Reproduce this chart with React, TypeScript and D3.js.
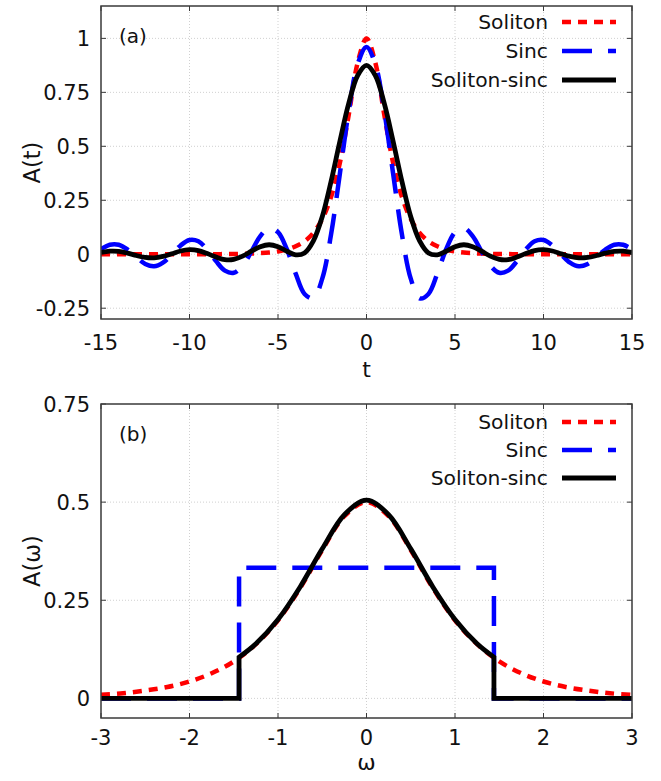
import * as d3 from 'd3';

// panel (a): time domain, sampled every 0.5
const T = [
  -15, -14.5, -14, -13.5, -13, -12.5, -12, -11.5, -11, -10.5, -10, -9.5, -9, -8.5, -8, -7.5,
  -7, -6.5, -6, -5.5, -5, -4.5, -4, -3.5, -3, -2.5, -2, -1.5, -1, -0.5, 0,
  0.5, 1, 1.5, 2, 2.5, 3, 3.5, 4, 4.5, 5, 5.5, 6, 6.5, 7, 7.5, 8,
  8.5, 9, 9.5, 10, 10.5, 11, 11.5, 12, 12.5, 13, 13.5, 14, 14.5, 15,
];
const solitonT = [
  0, 0, 0, 0, 0, 0, 0, 0, 0, 0, 0, 0, 0, 0, 0.001, 0.001,
  0.002, 0.003, 0.005, 0.008, 0.013, 0.022, 0.037, 0.06, 0.099, 0.163, 0.266, 0.425, 0.648, 0.887, 1.0,
  0.887, 0.648, 0.425, 0.266, 0.163, 0.099, 0.06, 0.037, 0.022, 0.013, 0.008, 0.005, 0.003, 0.002, 0.001, 0.001,
  0, 0, 0, 0, 0, 0, 0, 0, 0, 0, 0, 0, 0, 0,
];
const sincT = [
  0.023, 0.044, 0.044, 0.022, -0.013, -0.045, -0.056, -0.039, -0.001, 0.041, 0.066, 0.06, 0.022, -0.032, -0.076, -0.086,
  -0.053, 0.013, 0.084, 0.122, 0.102, 0.023, -0.09, -0.184, -0.204, -0.113, 0.093, 0.376, 0.665, 0.88, 0.96,
  0.88, 0.665, 0.376, 0.093, -0.113, -0.204, -0.184, -0.09, 0.023, 0.102, 0.122, 0.084, 0.013, -0.053, -0.086, -0.076,
  -0.032, 0.022, 0.06, 0.066, 0.041, -0.001, -0.039, -0.056, -0.045, -0.013, 0.022, 0.044, 0.044, 0.023,
];
const solSincT = [
  0.008, 0.014, 0.013, 0.005, -0.006, -0.015, -0.017, -0.01, 0.002, 0.015, 0.021, 0.017, 0.003, -0.013, -0.025, -0.024,
  -0.009, 0.014, 0.035, 0.044, 0.035, 0.014, -0.003, 0.006, 0.062, 0.174, 0.338, 0.525, 0.7, 0.828, 0.875,
  0.828, 0.7, 0.525, 0.338, 0.174, 0.062, 0.006, -0.003, 0.014, 0.035, 0.044, 0.035, 0.014, -0.009, -0.024, -0.025,
  -0.013, 0.003, 0.017, 0.021, 0.015, 0.002, -0.01, -0.017, -0.015, -0.006, 0.005, 0.013, 0.014, 0.008,
];

// panel (b): spectra
const W = [-3, -2.75, -2.5, -2.25, -2, -1.75, -1.5, -1.25, -1, -0.75, -0.5, -0.25, 0,
  0.25, 0.5, 0.75, 1, 1.25, 1.5, 1.75, 2, 2.25, 2.5, 2.75, 3];
const solitonW = [0.009, 0.013, 0.02, 0.029, 0.043, 0.064, 0.094, 0.138, 0.199, 0.281, 0.378, 0.464, 0.5,
  0.464, 0.378, 0.281, 0.199, 0.138, 0.094, 0.064, 0.043, 0.029, 0.02, 0.013, 0.009];
const sincWx = [-3, -1.44, -1.44, 1.44, 1.44, 3];
const sincW = [0, 0, 0.333, 0.333, 0, 0];
const solSincWx = [-1.44, -1.25, -1, -0.75, -0.5, -0.25, 0, 0.25, 0.5, 0.75, 1, 1.25, 1.44];
const solSincW = [0.105, 0.139, 0.201, 0.284, 0.381, 0.468, 0.505, 0.468, 0.381, 0.284, 0.201, 0.139, 0.105];
const cutoff = 1.44;

const xTicksA = [-15, -10, -5, 0, 5, 10, 15];
const yTicksA = [-0.25, 0, 0.25, 0.5, 0.75, 1];
const xTicksB = [-3, -2, -1, 0, 1, 2, 3];
const yTicksB = [0, 0.25, 0.5, 0.75];

const seriesNames = ['Soliton', 'Sinc', 'Soliton-sinc'];

const FONT = 'DejaVu Sans, Verdana, sans-serif';
const RED = { stroke: '#ff0000', width: 4.5, dash: '9,7' };
const BLUE = { stroke: '#0000ff', width: 4.5, dash: '30,16' };
const BLACK = { stroke: '#000000', width: 4.8, dash: undefined as string | undefined };
const STYLES = [RED, BLUE, BLACK];

type Pt = [number, number];
type Sc = d3.ScaleLinear<number, number>;
const zip = (xs: number[], ys: number[]): Pt[] => xs.map((x, i) => [x, ys[i]]);

function Panel({ id, top, bottom, xDomain, yDomain, xTicks, yTicks, xLabel, yLabel, tag, legendY, tickGap, labelGap, paths }: {
  id: string; top: number; bottom: number; xDomain: [number, number]; yDomain: [number, number];
  xTicks: number[]; yTicks: number[]; xLabel: string; yLabel: string; tag: string; legendY: number[];
  tickGap: number; labelGap: number; paths: (x: Sc, y: Sc) => string[];
}) {
  const left = 101, right = 632;
  const x = d3.scaleLinear().domain(xDomain).range([left, right]);
  const y = d3.scaleLinear().domain(yDomain).range([bottom, top]);
  const ds = paths(x, y);
  const tick = 5;
  const frame = '#3a3a3a';
  return (
    <g>
      <defs>
        <clipPath id={`clip-${id}`}>
          <rect x={left} y={top} width={right - left} height={bottom - top} />
        </clipPath>
      </defs>
      {/* grid */}
      {xTicks.filter(v => x(v) > left + 1 && x(v) < right - 1).map(v => (
        <line key={'gx' + v} x1={x(v)} x2={x(v)} y1={top} y2={bottom} stroke="#c4c4c4" strokeWidth={0.8} strokeDasharray="1,2" />
      ))}
      {yTicks.filter(v => y(v) > top + 1 && y(v) < bottom - 1).map(v => (
        <line key={'gy' + v} x1={left} x2={right} y1={y(v)} y2={y(v)} stroke="#c4c4c4" strokeWidth={0.8} strokeDasharray="1,2" />
      ))}
      {/* ticks, mirrored on all sides */}
      {xTicks.map(v => (
        <g key={'tx' + v}>
          <line x1={x(v)} x2={x(v)} y1={bottom} y2={bottom - tick} stroke={frame} strokeWidth={1} />
          <line x1={x(v)} x2={x(v)} y1={top} y2={top + tick} stroke={frame} strokeWidth={1} />
          <text x={x(v)} y={bottom + tickGap} textAnchor="middle" fontSize={21} fontFamily={FONT} fill="#111">{v}</text>
        </g>
      ))}
      {yTicks.map(v => (
        <g key={'ty' + v}>
          <line x1={left} x2={left + tick} y1={y(v)} y2={y(v)} stroke={frame} strokeWidth={1} />
          <line x1={right} x2={right - tick} y1={y(v)} y2={y(v)} stroke={frame} strokeWidth={1} />
          <text x={left - 11} y={y(v)} dy="0.36em" textAnchor="end" fontSize={21} fontFamily={FONT} fill="#111">{String(v)}</text>
        </g>
      ))}
      {/* curves */}
      <g clipPath={`url(#clip-${id})`}>
        {ds.map((d, i) => (
          <path key={i} d={d} fill="none" stroke={STYLES[i].stroke} strokeWidth={STYLES[i].width}
            strokeDasharray={STYLES[i].dash} strokeLinejoin="miter" />
        ))}
      </g>
      <rect x={left} y={top} width={right - left} height={bottom - top} fill="none" stroke={frame} strokeWidth={1.5} />
      {/* labels */}
      <text x={(left + right) / 2} y={bottom + labelGap} textAnchor="middle" fontSize={22} fontFamily={FONT} fill="#111">{xLabel}</text>
      <text transform={`translate(40,${(top + bottom) / 2}) rotate(-90)`} textAnchor="middle" fontSize={22.5} fontFamily={FONT} fill="#111">{yLabel}</text>
      <text x={119} y={top + 37} fontSize={20} fontFamily={FONT} fill="#111">{tag}</text>
      {/* legend */}
      {seriesNames.map((name, i) => (
        <g key={name}>
          <text x={548} y={legendY[i]} dy="0.36em" textAnchor="end" fontSize={20.3} fontFamily={FONT} fill="#111">{name}</text>
          <line x1={562} x2={616} y1={legendY[i]} y2={legendY[i]} stroke={STYLES[i].stroke}
            strokeWidth={STYLES[i].width} strokeDasharray={STYLES[i].dash} />
        </g>
      ))}
    </g>
  );
}

export default function App() {
  const smooth = (x: Sc, y: Sc) =>
    d3.line<Pt>().x(d => x(d[0])).y(d => y(d[1])).curve(d3.curveCatmullRom.alpha(0.5));
  const straight = (x: Sc, y: Sc) =>
    d3.line<Pt>().x(d => x(d[0])).y(d => y(d[1]));

  const pathsA = (x: Sc, y: Sc) => {
    const s = smooth(x, y);
    return [s(zip(T, solitonT)) || '', s(zip(T, sincT)) || '', s(zip(T, solSincT)) || ''];
  };

  const pathsB = (x: Sc, y: Sc) => {
    const s = smooth(x, y);
    const l = straight(x, y);
    const leftPart = l([[W[0], 0], [-cutoff, 0]]) || '';
    const mid = (s(zip(solSincWx, solSincW)) || '').replace(/^M/, 'L');
    const rightPart = (l([[cutoff, 0], [W[W.length - 1], 0]]) || '').replace(/^M/, 'L');
    return [s(zip(W, solitonW)) || '', l(zip(sincWx, sincW)) || '', leftPart + mid + rightPart];
  };

  return (
    <svg width={661} height={781} style={{ position: 'absolute', left: 0, top: 0, background: '#fff' }}>
      <rect width={661} height={781} fill="#fff" />
      <Panel id="a" top={6} bottom={319} xDomain={[-15, 15]} yDomain={[-0.3, 1.15]}
        xTicks={xTicksA} yTicks={yTicksA} xLabel="t" yLabel="A(t)" tag="(a)" legendY={[22, 51, 80]}
        tickGap={31} labelGap={58} paths={pathsA} />
      <Panel id="b" top={404} bottom={718} xDomain={[-3, 3]} yDomain={[-0.05, 0.75]}
        xTicks={xTicksB} yTicks={yTicksB} xLabel="ω" yLabel="A(ω)" tag="(b)" legendY={[422, 450, 478]}
        tickGap={27} labelGap={52} paths={pathsB} />
    </svg>
  );
}
